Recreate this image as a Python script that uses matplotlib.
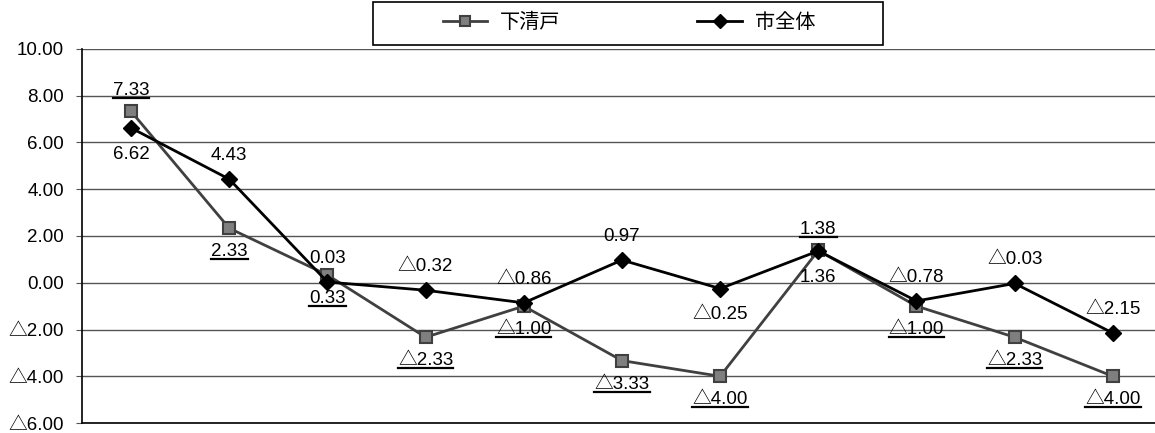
import matplotlib.pyplot as plt
from matplotlib.lines import Line2D
from matplotlib.patches import Rectangle
import numpy as np

plt.rcParams['font.family'] = ['Liberation Sans', 'Noto Sans CJK JP', 'DejaVu Sans']

# values per category (11 periods)
shimokiyoto = [7.33, 2.33, 0.33, -2.33, -1.00, -3.33, -4.00, 1.38, -1.00, -2.33, -4.00]
city_total = [6.62, 4.43, 0.03, -0.32, -0.86, 0.97, -0.25, 1.36, -0.78, -0.03, -2.15]
series_names = ["下清戸", "市全体"]

# label placement: +1 above the point, -1 below
shimo_side = [1, -1, -1, -1, -1, -1, -1, 1, -1, -1, -1]
city_side = [-1, 1, 1, 1, 1, 1, -1, -1, 1, 1, 1]

y_ticks = [-6, -4, -2, 0, 2, 4, 6, 8, 10]
FS = 13.5


def fmt(v):
    # negative numbers are written with a triangle instead of a minus sign
    if v < 0:
        return "△" + f"{abs(v):.2f}"
    return f"{v:.2f}"


fig = plt.figure(figsize=(11.55, 4.33), dpi=100)
ax = fig.add_axes([0.071, 0.023, 0.935, 0.864])

x = np.arange(len(shimokiyoto))
ax.plot(x, shimokiyoto, color="#404040", lw=2, marker="s", ms=9,
        mfc="#7f7f7f", mec="#404040", mew=1.5, zorder=3, label=series_names[0])
ax.plot(x, city_total, color="black", lw=2, marker="D", ms=8.5,
        mfc="black", mec="black", zorder=4, label=series_names[1])

ax.set_xlim(-0.5, len(x) - 0.5)
ax.set_ylim(-6, 10)
ax.set_yticks(y_ticks)
ax.set_yticklabels([fmt(v) for v in y_ticks], fontsize=FS)
ax.set_xticks([])
ax.yaxis.grid(True, color="#555555", lw=1)
ax.set_axisbelow(True)
ax.tick_params(axis="y", length=4, color="#555555", pad=9)
ax.spines["right"].set_visible(False)
ax.spines["top"].set_visible(False)
for side in ["left", "bottom"]:
    ax.spines[side].set_color("black")
    ax.spines[side].set_linewidth(1.2)

under_texts = []
for xi, v, s in zip(x, shimokiyoto, shimo_side):
    off = 15 if s > 0 else -17
    t = ax.annotate(fmt(v), (xi, v), xytext=(0, off), textcoords="offset points",
                    ha="center", va="center", fontsize=FS)
    under_texts.append(t)
for xi, v, s in zip(x, city_total, city_side):
    off = 17 if s > 0 else -19
    ax.annotate(fmt(v), (xi, v), xytext=(0, off), textcoords="offset points",
                ha="center", va="center", fontsize=FS)

# legend entries without their own frame, boxed by a separate rectangle
fig.legend(loc="center", bbox_to_anchor=(0.5446, 0.949), ncol=2,
           fontsize=14.5, frameon=False, columnspacing=6.8, handlelength=2.2,
           handletextpad=0.65, markerscale=0.8)
fig.add_artist(Rectangle((0.323, 0.896), 0.4415, 0.099, transform=fig.transFigure,
                         fill=False, edgecolor="black", lw=1.2))

# underline the 下清戸 labels
fig.canvas.draw()
renderer = fig.canvas.get_renderer()
inv = fig.transFigure.inverted()
for t in under_texts:
    bb = t.get_window_extent(renderer)
    (x0, y0), (x1, _) = inv.transform([[bb.x0, bb.y0 + 1], [bb.x1, bb.y1]])
    fig.add_artist(Line2D([x0, x1], [y0, y0], color="black", lw=1.6,
                          transform=fig.transFigure))

fig.savefig("out.png", dpi=100)
